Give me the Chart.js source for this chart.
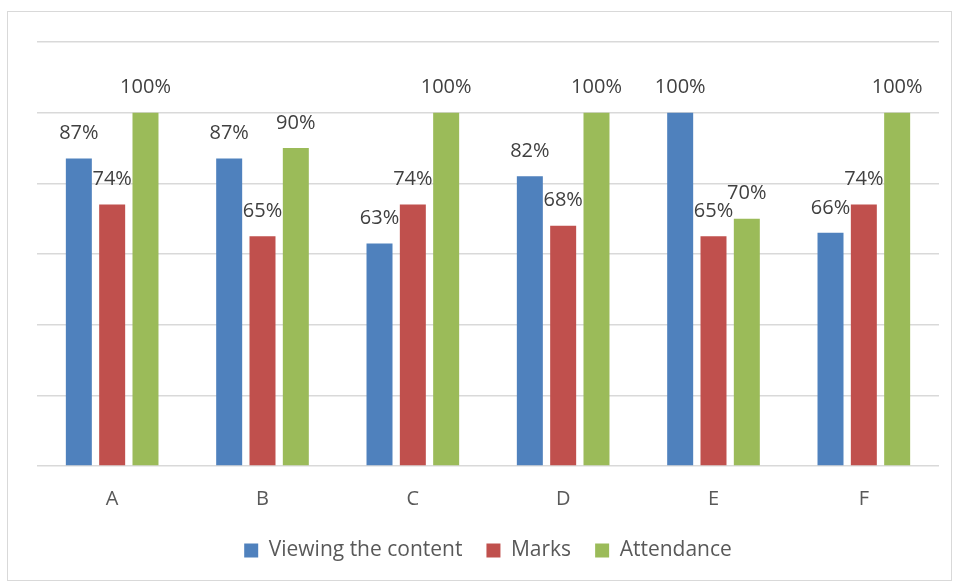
<!DOCTYPE html>
<html>
<head>
<meta charset="utf-8">
<script src="https://cdn.jsdelivr.net/npm/chart.js@4"></script>
<style>
  html, body { margin: 0; padding: 0; background: #fff; }
  #wrap { width: 953px; height: 581px; position: relative; }
</style>
</head>
<body>
<div id="wrap"><canvas id="chart"></canvas></div>
<script>
const categories = ['A', 'B', 'C', 'D', 'E', 'F'];
const viewing = [87, 87, 63, 82, 100, 66];
const marks = [74, 65, 74, 68, 65, 74];
const attendance = [100, 90, 100, 100, 70, 100];
const yTicks = [0, 20, 40, 60, 80, 100, 120];

const FONT = "'Open Sans', 'Liberation Sans', sans-serif";

// Light frame around the whole chart, like the Excel chart area
const framePlugin = {
  id: 'frame',
  beforeDraw(chart) {
    const ctx = chart.ctx;
    ctx.save();
    ctx.strokeStyle = '#d9d9d9';
    ctx.lineWidth = 1;
    ctx.strokeRect(7.5, 11.5, 944, 569);
    ctx.restore();
  }
};

// Percent labels above each bar
const labelPlugin = {
  id: 'barLabels',
  afterDatasetsDraw(chart) {
    const ctx = chart.ctx;
    ctx.save();
    ctx.font = '20px ' + FONT;
    ctx.fillStyle = '#404040';
    ctx.textAlign = 'center';
    ctx.textBaseline = 'middle';
    chart.data.datasets.forEach((ds, i) => {
      chart.getDatasetMeta(i).data.forEach((bar, j) => {
        ctx.fillText(ds.data[j] + '%', bar.x, bar.y - 25);
      });
    });
    ctx.restore();
  }
};

new Chart(document.getElementById('chart'), {
  type: 'bar',
  data: {
    labels: categories,
    datasets: [
      { label: 'Viewing the content', data: viewing, backgroundColor: '#4f81bd' },
      { label: 'Marks', data: marks, backgroundColor: '#c0504d' },
      { label: 'Attendance', data: attendance, backgroundColor: '#9bbb59' }
    ]
  },
  options: {
    responsive: true,
    maintainAspectRatio: false,
    animation: false,
    categoryPercentage: 0.665,
    barPercentage: 0.78,
    layout: { padding: { left: 37, right: 14, top: 42, bottom: 10 } },
    plugins: {
      legend: {
        position: 'bottom',
        labels: {
          boxWidth: 14,
          boxHeight: 14,
          padding: 24,
          color: '#595959',
          font: { family: FONT, size: 21 }
        }
      },
      tooltip: { enabled: false }
    },
    scales: {
      x: {
        grid: { display: false },
        border: { display: false },
        afterFit(scale) { scale.height -= 8; },
        ticks: { color: '#595959', padding: 13, font: { family: FONT, size: 20 } }
      },
      y: {
        min: 0,
        max: 120,
        afterBuildTicks(scale) { scale.ticks = yTicks.map(v => ({ value: v })); },
        afterFit(scale) { scale.width = 0; },
        ticks: { display: false },
        border: { display: false },
        grid: { color: '#d9d9d9', lineWidth: 1.5, drawTicks: false }
      }
    }
  },
  plugins: [framePlugin, labelPlugin]
});
</script>
</body>
</html>
